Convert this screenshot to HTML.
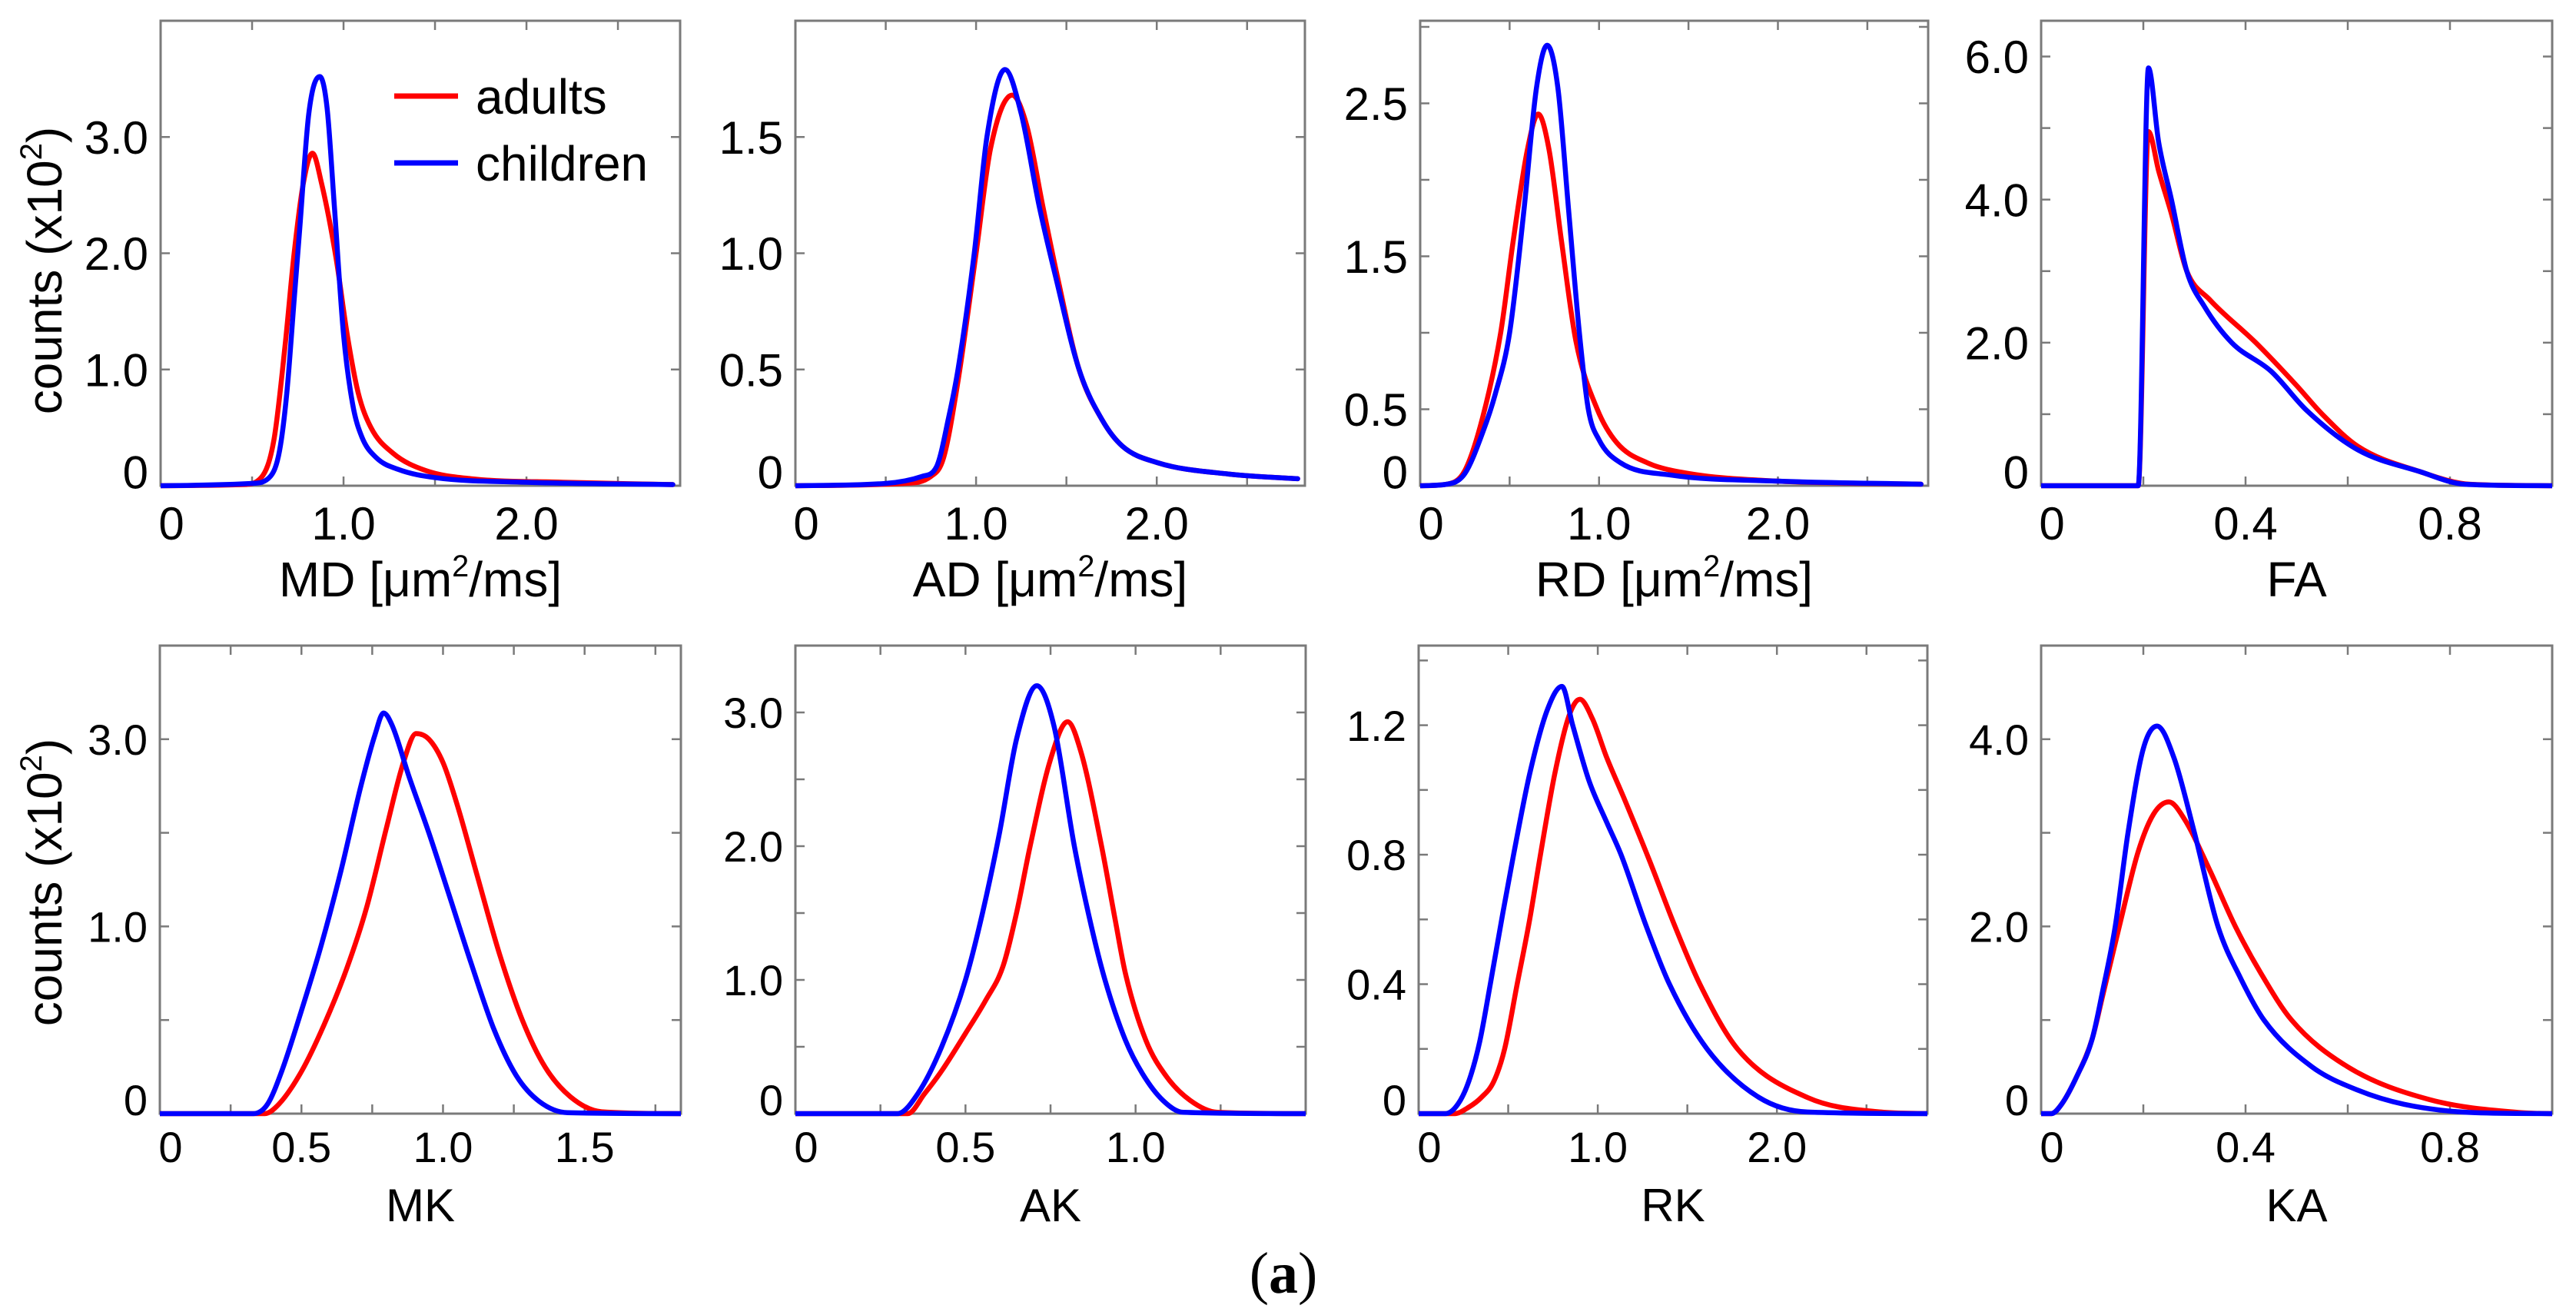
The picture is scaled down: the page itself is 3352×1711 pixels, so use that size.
<!DOCTYPE html>
<html><head><meta charset="utf-8"><style>
html,body{margin:0;padding:0;background:#fff;}
svg{display:block;}
text{font-family:"Liberation Sans",sans-serif;fill:#000;}
</style></head><body>
<svg id="fig" width="3352" height="1711" viewBox="0 0 3352 1711" xmlns="http://www.w3.org/2000/svg">
<rect width="3352" height="1711" fill="#fff"/>
</svg>
<script>
// ---------- data ----------
const mdAdultsX   = [0,0.45,0.55,0.62,0.68,0.73,0.78,0.83,0.88,0.96,1.02,1.08,1.15,1.27,1.45,1.7,2.2,2.8];
const mdAdultsY   = [0,0.01,0.07,0.4,1.2,2.0,2.6,2.86,2.6,1.95,1.3,0.8,0.5,0.28,0.13,0.06,0.03,0.01];
const mdChildrenX = [0,0.5,0.6,0.65,0.69,0.73,0.76,0.81,0.87,0.91,0.95,1.0,1.05,1.1,1.18,1.3,1.5,2.0,2.8];
const mdChildrenY = [0,0.02,0.08,0.3,0.8,1.6,2.2,3.2,3.52,3.25,2.4,1.3,0.7,0.42,0.24,0.14,0.07,0.03,0.01];

const adAdultsX   = [0,0.6,0.75,0.82,0.9,1.0,1.08,1.2,1.28,1.37,1.45,1.57,1.7,1.81,2.0,2.4,2.78];
const adAdultsY   = [0,0.01,0.04,0.12,0.45,1.0,1.45,1.68,1.55,1.2,0.9,0.5,0.28,0.17,0.1,0.05,0.03];
const adChildrenX = [0,0.5,0.7,0.78,0.85,0.9,0.99,1.06,1.16,1.25,1.35,1.44,1.57,1.7,1.81,2.0,2.4,2.78];
const adChildrenY = [0,0.01,0.04,0.08,0.3,0.5,1.0,1.5,1.79,1.6,1.2,0.9,0.5,0.28,0.17,0.1,0.05,0.03];

const rdAdultsX   = [0,0.15,0.25,0.35,0.45,0.52,0.6,0.66,0.72,0.79,0.87,0.99,1.1,1.27,1.5,2.0,2.8];
const rdAdultsY   = [0,0.01,0.1,0.45,1.0,1.6,2.2,2.43,2.2,1.6,0.95,0.5,0.28,0.15,0.08,0.03,0.01];
const rdChildrenX = [0,0.15,0.25,0.35,0.42,0.5,0.58,0.65,0.71,0.77,0.83,0.89,0.94,1.0,1.12,1.4,2.0,2.8];
const rdChildrenY = [0,0.01,0.08,0.35,0.6,1.0,1.8,2.6,2.88,2.6,1.8,1.0,0.5,0.3,0.15,0.07,0.03,0.01];

const faAdultsX   = [0,0.19,0.21,0.23,0.255,0.285,0.33,0.42,0.5,0.55,0.62,0.74,0.84,1.0];
const faAdultsY   = [0,0,4.95,4.4,3.8,3.0,2.6,2.0,1.4,1.0,0.55,0.2,0.02,0];
const faChildrenX = [0,0.19,0.21,0.23,0.255,0.285,0.32,0.373,0.45,0.52,0.62,0.74,0.83,1.0];
const faChildrenY = [0,0,5.84,4.8,4.0,3.0,2.5,2.0,1.6,1.05,0.5,0.2,0.02,0];

const mkAdultsX   = [0,0.37,0.42,0.5,0.58,0.66,0.73,0.8,0.86,0.905,0.95,1.0,1.05,1.12,1.2,1.28,1.36,1.45,1.56,1.84];
const mkAdultsY   = [0,0,0.1,0.45,0.95,1.55,2.2,3.05,3.75,4.06,4.0,3.75,3.3,2.55,1.7,1.0,0.5,0.18,0.02,0];
const mkChildrenX = [0,0.33,0.38,0.43,0.5,0.57,0.64,0.71,0.76,0.79,0.82,0.88,0.95,1.02,1.1,1.18,1.26,1.34,1.44,1.84];
const mkChildrenY = [0,0,0.1,0.45,1.1,1.8,2.6,3.5,4.05,4.28,4.15,3.6,3.0,2.35,1.6,0.9,0.4,0.13,0.01,0];

const akAdultsX   = [0,0.33,0.38,0.43,0.5,0.56,0.61,0.65,0.69,0.75,0.8,0.84,0.9,0.94,0.97,1.03,1.09,1.16,1.24,1.5];
const akAdultsY   = [0,0,0.15,0.32,0.6,0.85,1.1,1.5,2.0,2.65,2.93,2.7,2.0,1.45,1.05,0.55,0.28,0.1,0.01,0];
const akChildrenX = [0,0.3,0.36,0.43,0.5,0.55,0.6,0.65,0.71,0.76,0.82,0.87,0.91,0.97,1.02,1.08,1.14,1.5];
const akChildrenY = [0,0,0.15,0.5,1.0,1.5,2.1,2.8,3.2,2.9,2.0,1.4,1.0,0.55,0.3,0.1,0.01,0];

const rkAdultsX   = [0,0.2,0.28,0.35,0.42,0.48,0.55,0.62,0.68,0.76,0.84,0.9,0.97,1.05,1.15,1.29,1.43,1.57,1.78,2.17,2.58,2.84];
const rkAdultsY   = [0,0,0.02,0.05,0.1,0.2,0.4,0.6,0.8,1.05,1.23,1.28,1.22,1.1,0.97,0.78,0.58,0.4,0.2,0.05,0.005,0];
const rkChildrenX = [0,0.15,0.22,0.28,0.34,0.4,0.47,0.53,0.62,0.72,0.8,0.86,0.95,1.05,1.13,1.27,1.4,1.61,1.9,2.17,2.84];
const rkChildrenY = [0,0,0.03,0.1,0.22,0.4,0.62,0.8,1.05,1.25,1.32,1.2,1.03,0.9,0.8,0.58,0.4,0.2,0.05,0.005,0];

const kaAdultsX   = [0,0.02,0.04,0.07,0.1,0.12,0.153,0.19,0.22,0.25,0.28,0.33,0.38,0.43,0.49,0.6,0.76,0.94,1.0];
const kaAdultsY   = [0,0,0.1,0.4,0.8,1.25,2.0,2.8,3.2,3.33,3.15,2.6,2.0,1.5,1.0,0.5,0.15,0.01,0];
const kaChildrenX = [0,0.02,0.04,0.07,0.1,0.12,0.145,0.17,0.2,0.227,0.26,0.3,0.346,0.39,0.436,0.53,0.62,0.71,0.85,1.0];
const kaChildrenY = [0,0,0.1,0.4,0.8,1.3,2.0,3.0,3.9,4.14,3.8,3.0,2.0,1.45,1.0,0.5,0.25,0.1,0.01,0];

// tick values / labels
const xTicksDiff = [0,1.0,2.0];        const xTickLabelsDiff = ["0","1.0","2.0"];
const xTicksFrac = [0,0.4,0.8];        const xTickLabelsFrac = ["0","0.4","0.8"];
const xTicksMK   = [0,0.5,1.0,1.5];    const xTickLabelsMK   = ["0","0.5","1.0","1.5"];
const xTicksAK   = [0,0.5,1.0];        const xTickLabelsAK   = ["0","0.5","1.0"];
const yTicksMD = [0,1,2,3];            const yTickLabelsMD = ["0","1.0","2.0","3.0"];
const yTicksAD = [0,0.5,1.0,1.5];      const yTickLabelsAD = ["0","0.5","1.0","1.5"];
const yTicksRD = [0,0.5,1.5,2.5];      const yTickLabelsRD = ["0","0.5","1.5","2.5"];
const yTicksFA = [0,2,4,6];            const yTickLabelsFA = ["0","2.0","4.0","6.0"];
const yTicksMK = [0,2,4];              const yTickLabelsMK = ["0","1.0","3.0"];
const yTicksAK = [0,1,2,3];            const yTickLabelsAK = ["0","1.0","2.0","3.0"];
const yTicksRK = [0,0.4,0.8,1.2];      const yTickLabelsRK = ["0","0.4","0.8","1.2"];
const yTicksKA = [0,2,4];              const yTickLabelsKA = ["0","2.0","4.0"];

// ---------- layout ----------
const NS = "http://www.w3.org/2000/svg";
const svg = document.getElementById('fig');
function mk(tag, attrs, parent){
  const e = document.createElementNS(NS, tag);
  for (const k in attrs) e.setAttribute(k, attrs[k]);
  (parent||svg).appendChild(e);
  return e;
}
function monotonePath(px, py){
  const n = px.length; if(n<2) return '';
  const d=[], m=new Array(n);
  for(let i=0;i<n-1;i++) d.push((py[i+1]-py[i])/(px[i+1]-px[i]));
  m[0]=d[0]; m[n-1]=d[n-2];
  for(let i=1;i<n-1;i++){ m[i] = (d[i-1]*d[i]<=0)?0:(d[i-1]+d[i])/2; }
  for(let i=0;i<n-1;i++){
    if(d[i]===0){m[i]=0;m[i+1]=0;continue;}
    const a=m[i]/d[i], b=m[i+1]/d[i], s=a*a+b*b;
    if(s>9){const t=3/Math.sqrt(s); m[i]=t*a*d[i]; m[i+1]=t*b*d[i];}
  }
  let p = 'M'+px[0].toFixed(2)+','+py[0].toFixed(2);
  for(let i=0;i<n-1;i++){
    const h=(px[i+1]-px[i])/3;
    p += ' C'+(px[i]+h).toFixed(2)+','+(py[i]+m[i]*h).toFixed(2)+' '+(px[i+1]-h).toFixed(2)+','+(py[i+1]-m[i+1]*h).toFixed(2)+' '+px[i+1].toFixed(2)+','+py[i+1].toFixed(2);
  }
  return p;
}

const panels = [
 {id:'md', L:209, R:885, T:27, B:632, xmax:2.84, ymax:4.0, xstep:0.5, ystep:1, xt:xTicksDiff, xl:xTickLabelsDiff, yt:yTicksMD, yl:yTickLabelsMD, title:'MD', unit:true, ax:mdAdultsX, ay:mdAdultsY, cx:mdChildrenX, cy:mdChildrenY, row:0},
 {id:'ad', L:1035, R:1698, T:27, B:632, xmax:2.82, ymax:2.0, xstep:0.5, ystep:0.5, xt:xTicksDiff, xl:xTickLabelsDiff, yt:yTicksAD, yl:yTickLabelsAD, title:'AD', unit:true, ax:adAdultsX, ay:adAdultsY, cx:adChildrenX, cy:adChildrenY, row:0},
 {id:'rd', L:1848, R:2509, T:27, B:632, xmax:2.84, ymax:3.04, xstep:0.5, ystep:0.5, xt:xTicksDiff, xl:xTickLabelsDiff, yt:yTicksRD, yl:yTickLabelsRD, title:'RD', unit:true, ax:rdAdultsX, ay:rdAdultsY, cx:rdChildrenX, cy:rdChildrenY, row:0},
 {id:'fa', L:2656, R:3321, T:27, B:632, xmax:1.0, ymax:6.5, xstep:0.2, ystep:1, xt:xTicksFrac, xl:xTickLabelsFrac, yt:yTicksFA, yl:yTickLabelsFA, title:'FA', ax:faAdultsX, ay:faAdultsY, cx:faChildrenX, cy:faChildrenY, row:0},
 {id:'mk', L:208, R:886, T:840, B:1449, xmax:1.84, ymax:5.0, xstep:0.25, ystep:1, xt:xTicksMK, xl:xTickLabelsMK, yt:yTicksMK, yl:yTickLabelsMK, title:'MK', ax:mkAdultsX, ay:mkAdultsY, cx:mkChildrenX, cy:mkChildrenY, row:1},
 {id:'ak', L:1035, R:1699, T:840, B:1449, xmax:1.5, ymax:3.5, xstep:0.25, ystep:0.5, xt:xTicksAK, xl:xTickLabelsAK, yt:yTicksAK, yl:yTickLabelsAK, title:'AK', ax:akAdultsX, ay:akAdultsY, cx:akChildrenX, cy:akChildrenY, row:1},
 {id:'rk', L:1846, R:2508, T:840, B:1449, xmax:2.84, ymax:1.446, xstep:0.5, ystep:0.2, xt:xTicksDiff, xl:xTickLabelsDiff, yt:yTicksRK, yl:yTickLabelsRK, title:'RK', ax:rkAdultsX, ay:rkAdultsY, cx:rkChildrenX, cy:rkChildrenY, row:1},
 {id:'ka', L:2656, R:3321, T:840, B:1449, xmax:1.0, ymax:5.0, xstep:0.2, ystep:1, xt:xTicksFrac, xl:xTickLabelsFrac, yt:yTicksKA, yl:yTickLabelsKA, title:'KA', ax:kaAdultsX, ay:kaAdultsY, cx:kaChildrenX, cy:kaChildrenY, row:1}
];

panels.forEach(p=>{
  const g = mk('g',{});
  
  
  const sx = v => p.L + v/p.xmax*(p.R-p.L);
  const sy = v => p.B - v/p.ymax*(p.B-p.T);
  const tickFont = p.row===0 ? 60 : 56;
  const tg = mk('g',{stroke:'#7a7a7a','stroke-width':2.5}, g);
  
  
  for(let v=p.xstep; v<p.xmax-1e-6; v+=p.xstep){
    const x=sx(v);
    mk('line',{x1:x,y1:p.B,x2:x,y2:p.B-12},tg);
    mk('line',{x1:x,y1:p.T,x2:x,y2:p.T+12},tg);
  }
  for(let v=p.ystep; v<p.ymax-1e-6; v+=p.ystep){
    const y=sy(v);
    mk('line',{x1:p.L,y1:y,x2:p.L+12,y2:y},tg);
    mk('line',{x1:p.R,y1:y,x2:p.R-12,y2:y},tg);
  }
  const fr = mk('rect',{x:p.L,y:p.T,width:p.R-p.L,height:p.B-p.T,fill:'none',stroke:'#7a7a7a','stroke-width':3},g);
  
  
  const xBase = p.row===0 ? 702 : 1512;
  p.xt.forEach((v,i)=>{
    const t = mk('text',{x:sx(v)+(v===0?14:0), y:xBase,'text-anchor':'middle','font-size':tickFont},g);
    
    
    t.textContent = p.xl[i];
  });
  p.yt.forEach((v,i)=>{
    const y = sy(v) - (v===0?18:0);
    const t = mk('text',{x:p.L-16, y:y+tickFont*0.36,'text-anchor':'end','font-size':tickFont},g);
    
    
    t.textContent = p.yl[i];
  });
  const tBase = p.row===0 ? 776 : 1589;
  const tt = mk('text',{x:(p.L+p.R)/2, y:tBase,'text-anchor':'middle','font-size':tickFont+4},g);
  
  
  if(p.unit){
    tt.appendChild(document.createTextNode(p.title+' [\u03BCm'));
    const sup = mk('tspan',{'font-size':(tickFont+4)*0.62,dy:-26},tt);
    sup.textContent='2';
    const rest = mk('tspan',{dy:26},tt);
    rest.textContent='/ms]';
  } else tt.textContent = p.title;
  const cp = mk('clipPath',{id:'clip-'+p.id},g);
  mk('rect',{x:p.L,y:p.T-10,width:p.R-p.L,height:p.B-p.T+14},cp);
  const series = [['adults',p.ax,p.ay,'#ff0000'],['children',p.cx,p.cy,'#0000ff']];
  series.forEach(s=>{
    const path = mk('path',{d:monotonePath(s[1].map(sx), s[2].map(sy)),fill:'none',stroke:s[3],'stroke-width':6.5,'stroke-linejoin':'round','stroke-linecap':'round','clip-path':'url(#clip-'+p.id+')'},g);
    
    
  });
});

[352,1148].forEach((cy,i)=>{
  const t = mk('text',{x:0,y:0,'text-anchor':'middle','font-size':64,transform:'translate(80,'+cy+') rotate(-90)'});
  
  
  t.appendChild(document.createTextNode('counts (x10'));
  const s = mk('tspan',{'font-size':40,dy:-26},t); s.textContent='2';
  const e = mk('tspan',{dy:26},t); e.textContent=')';
});

const lg = mk('g',{});


const l1 = mk('line',{x1:513,y1:125,x2:596,y2:125,stroke:'#ff0000','stroke-width':7},lg);


const t1 = mk('text',{x:619,y:148,'font-size':64},lg); t1.textContent='adults';


const l2 = mk('line',{x1:513,y1:212,x2:596,y2:212,stroke:'#0000ff','stroke-width':7},lg);


const t2 = mk('text',{x:619,y:235,'font-size':64},lg); t2.textContent='children';



const cap = mk('text',{x:1670,y:1682,'text-anchor':'middle','font-size':76,style:'font-family:"Liberation Serif",serif'});


cap.appendChild(document.createTextNode('('));
const cb = mk('tspan',{'font-weight':'bold'},cap); cb.textContent='a';
cap.appendChild(document.createTextNode(')'));
</script>
</body></html>
